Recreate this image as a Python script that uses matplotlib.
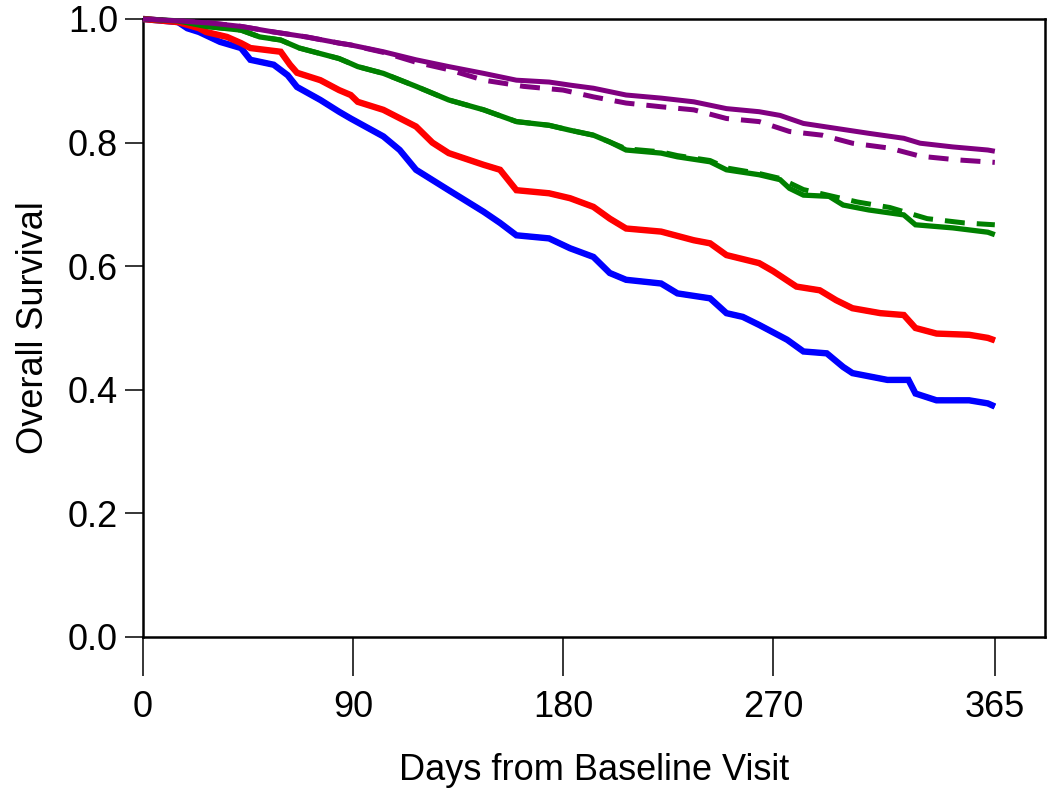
import matplotlib
matplotlib.use("Agg")
import matplotlib.pyplot as plt

plt.rcParams['font.family'] = ['Liberation Sans', 'DejaVu Sans']

# ---- data (day, overall survival) ----
purple_solid = [(0, 1.0), (15, 0.997), (30, 0.993), (42, 0.988), (56, 0.979), (70, 0.971),
                (84, 0.961), (89, 0.958), (103, 0.947), (117, 0.934), (131, 0.923), (146, 0.912),
                (160, 0.901), (174, 0.898), (183, 0.893), (193, 0.888), (207, 0.877), (222, 0.872),
                (236, 0.866), (250, 0.855), (264, 0.850), (273, 0.844), (283, 0.831), (297, 0.823),
                (311, 0.815), (326, 0.807), (333, 0.799), (347, 0.793), (362, 0.788), (365, 0.786)]
purple_dashed = [(0, 1.0), (15, 0.997), (30, 0.993), (42, 0.988), (56, 0.979), (70, 0.971),
                 (84, 0.961), (89, 0.958), (103, 0.946), (117, 0.930), (131, 0.918), (146, 0.901),
                 (163, 0.891), (180, 0.885), (193, 0.874), (207, 0.864), (222, 0.858), (236, 0.853),
                 (250, 0.839), (264, 0.834), (277, 0.818), (291, 0.812), (304, 0.799), (320, 0.791),
                 (333, 0.778), (349, 0.772), (365, 0.768)]

green_solid = [(0, 1.0), (15, 0.997), (27, 0.988), (42, 0.982), (50, 0.971), (59, 0.966),
               (67, 0.953), (76, 0.944), (84, 0.936), (89, 0.928), (92, 0.923), (103, 0.912),
               (117, 0.891), (131, 0.869), (146, 0.853), (160, 0.834), (174, 0.828), (183, 0.820),
               (193, 0.812), (200, 0.801), (207, 0.788), (222, 0.783), (229, 0.777), (243, 0.769),
               (250, 0.756), (264, 0.748), (273, 0.740), (277, 0.726), (283, 0.715), (294, 0.713),
               (300, 0.699), (311, 0.691), (326, 0.683), (331, 0.667), (347, 0.662), (362, 0.655),
               (365, 0.651)]
green_dashed = [(0, 1.0), (15, 0.997), (27, 0.988), (42, 0.982), (50, 0.971), (59, 0.966),
                (67, 0.953), (76, 0.944), (84, 0.936), (89, 0.928), (92, 0.923), (103, 0.912),
                (117, 0.891), (131, 0.869), (146, 0.853), (160, 0.834), (174, 0.828), (183, 0.820),
                (193, 0.812), (200, 0.801), (207, 0.790), (222, 0.785), (229, 0.779), (243, 0.771),
                (250, 0.759), (264, 0.750), (273, 0.742), (283, 0.724), (306, 0.704), (320, 0.695),
                (336, 0.677), (352, 0.670), (365, 0.667)]

red_solid = [(0, 1.0), (15, 0.995), (24, 0.985), (27, 0.979), (36, 0.971), (42, 0.961),
             (46, 0.953), (59, 0.947), (63, 0.926), (66, 0.913), (76, 0.901), (84, 0.885),
             (89, 0.877), (92, 0.866), (103, 0.853), (117, 0.826), (124, 0.800), (131, 0.783),
             (146, 0.764), (153, 0.756), (160, 0.723), (174, 0.718), (183, 0.710), (193, 0.696),
             (200, 0.677), (207, 0.661), (222, 0.656), (236, 0.642), (243, 0.637), (250, 0.618),
             (264, 0.605), (270, 0.592), (280, 0.567), (290, 0.561), (297, 0.545), (304, 0.532),
             (316, 0.524), (326, 0.521), (331, 0.500), (340, 0.491), (354, 0.489), (362, 0.484),
             (365, 0.480)]
red_dashed = red_solid

blue_solid = [(0, 1.0), (15, 0.995), (19, 0.985), (24, 0.979), (33, 0.963), (42, 0.953),
              (46, 0.934), (56, 0.926), (62, 0.909), (66, 0.890), (76, 0.869), (84, 0.850),
              (89, 0.839), (103, 0.810), (110, 0.788), (117, 0.756), (131, 0.723), (146, 0.688),
              (153, 0.670), (160, 0.650), (174, 0.645), (183, 0.629), (193, 0.615), (200, 0.589),
              (207, 0.578), (222, 0.572), (229, 0.556), (243, 0.548), (250, 0.524), (257, 0.518),
              (264, 0.505), (271, 0.491), (276, 0.481), (283, 0.462), (293, 0.459), (300, 0.437),
              (304, 0.427), (319, 0.416), (328, 0.416), (331, 0.394), (340, 0.383), (354, 0.383),
              (362, 0.378), (365, 0.373)]
blue_dashed = blue_solid

curves = [
    ("#0000FF", blue_solid, blue_dashed, 4.6),
    ("#FF0000", red_solid, red_dashed, 4.6),
    ("#008000", green_solid, green_dashed, 3.8),
    ("#800080", purple_solid, purple_dashed, 3.6),
]

x_ticks = [0, 90, 180, 270, 365]
y_ticks = [0.0, 0.2, 0.4, 0.6, 0.8, 1.0]
x_label = "Days from Baseline Visit"
y_label = "Overall Survival"

# ---- figure ----
fig = plt.figure(figsize=(10.5, 7.91), dpi=100)
ax = fig.add_axes([143 / 1050, 1 - 637 / 791, (1045 - 143) / 1050, (637 - 19) / 791])

for color, solid, dashed, lw in curves:
    dx, dy = zip(*dashed)
    ax.plot(dx, dy, color=color, lw=3.6, linestyle=(0, (4.0, 2.4)),
            dash_capstyle='butt', clip_on=False, zorder=3)
    sx, sy = zip(*solid)
    ax.plot(sx, sy, color=color, lw=lw, solid_capstyle='butt',
            solid_joinstyle='miter', clip_on=False, zorder=4)

ax.set_xlim(0, 386.5)
ax.set_ylim(0, 1.0)
ax.set_xticks(x_ticks)
ax.set_xticklabels([str(t) for t in x_ticks])
ax.set_yticks(y_ticks)
ax.set_yticklabels([f"{t:.1f}" for t in y_ticks])

for s in ax.spines.values():
    s.set_linewidth(1.8)
    s.set_color('black')

ax.tick_params(axis='x', length=28, width=1.1, pad=10, labelsize=26, direction='out')
ax.tick_params(axis='y', length=13, width=1.1, pad=5, labelsize=26, direction='out')

ax.set_xlabel(x_label, fontsize=26, labelpad=20)
ax.set_ylabel(y_label, fontsize=26, labelpad=12)

fig.savefig("out.png", dpi=100)
